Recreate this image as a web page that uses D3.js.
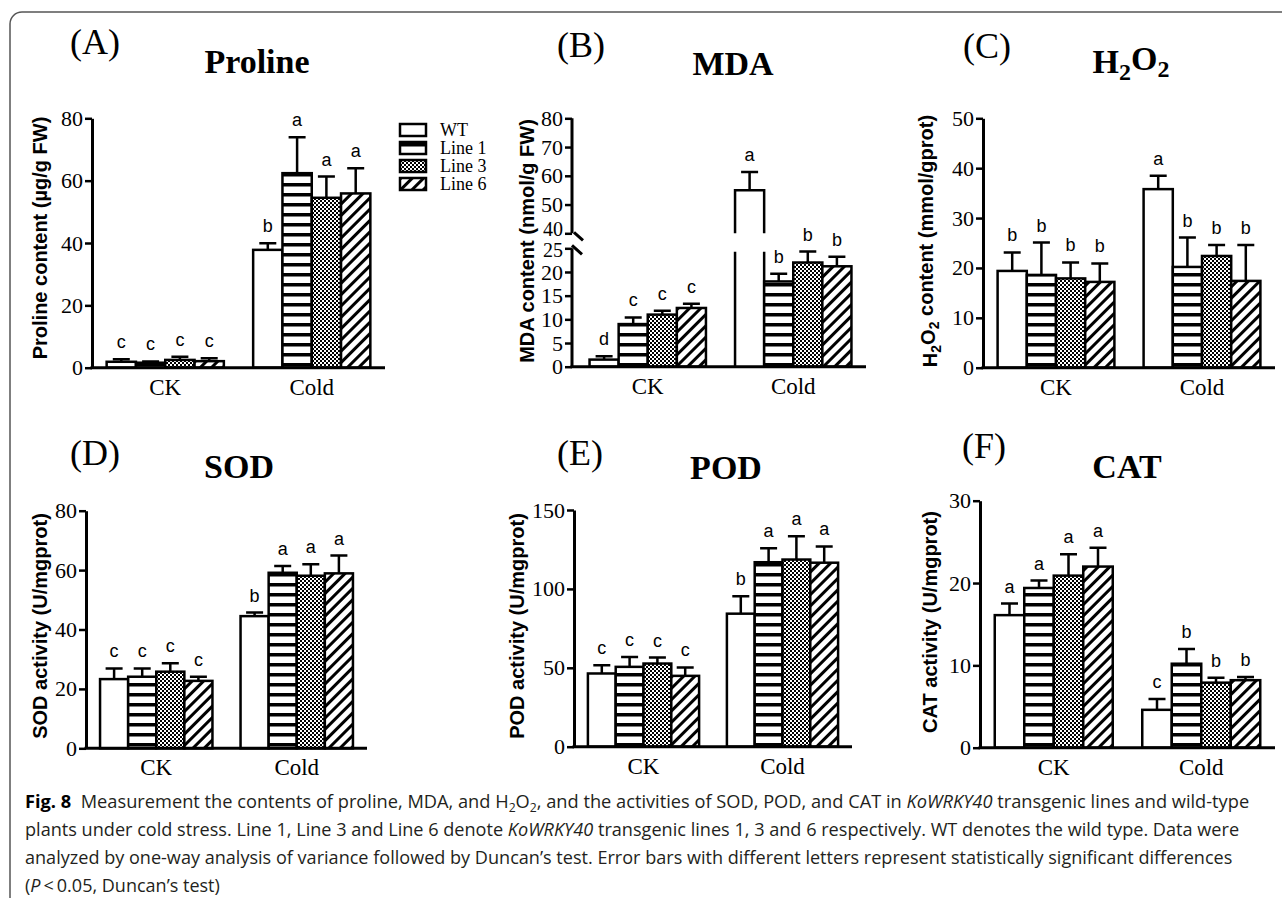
<!DOCTYPE html>
<html>
<head>
<meta charset="utf-8">
<script src="https://cdn.jsdelivr.net/npm/d3@7"></script>
<style>
  body { margin: 0; background: #fff; }
  svg { display: block; }
</style>
</head>
<body>
<svg id="fig" width="1282" height="898"></svg>
<script>
// groups and series shared by every panel
const groups = ["CK", "Cold"];
const series = ["WT", "Line 1", "Line 3", "Line 6"];

// values: [CK row, Cold row], one entry per series
const prolineMean = [[1.9, 1.6, 2.5, 2.1], [37.8, 62.4, 54.5, 55.9]];
const prolineErr = [[0.8, 0.4, 1.0, 0.9], [2.1, 11.5, 6.8, 8.1]];
const prolineLetters = [["c", "c", "c", "c"], ["b", "a", "a", "a"]];

const mdaMean = [[1.5, 9.0, 11.0, 12.4], [55.0, 18.0, 22.0, 21.2]];
const mdaErr = [[0.7, 1.4, 0.8, 0.9], [6.3, 1.6, 2.3, 2.0]];
const mdaLetters = [["d", "c", "c", "c"], ["a", "b", "b", "b"]];

const h2o2Mean = [[19.4, 18.6, 17.9, 17.2], [35.8, 20.2, 22.4, 17.4]];
const h2o2Err = [[3.7, 6.5, 3.2, 3.7], [2.7, 5.9, 2.2, 7.2]];
const h2o2Letters = [["b", "b", "b", "b"], ["a", "b", "b", "b"]];

const sodMean = [[23.3, 24.1, 25.8, 22.7], [44.5, 59.1, 58.1, 58.9]];
const sodErr = [[3.6, 2.8, 2.8, 1.4], [1.2, 2.3, 3.9, 6.0]];
const sodLetters = [["c", "c", "c", "c"], ["b", "a", "a", "a"]];

const podMean = [[46.4, 50.6, 52.7, 44.9], [84.3, 116.9, 118.6, 116.6]];
const podErr = [[5.2, 6.3, 3.8, 5.3], [11.0, 8.9, 14.8, 10.3]];
const podLetters = [["c", "c", "c", "c"], ["b", "a", "a", "a"]];

const catMean = [[16.1, 19.4, 20.9, 22.0], [4.6, 10.2, 7.9, 8.2]];
const catErr = [[1.4, 0.9, 2.6, 2.3], [1.3, 1.8, 0.6, 0.4]];
const catLetters = [["a", "a", "a", "a"], ["c", "b", "b", "b"]];

// tick labels
const prolineTicks = [0, 20, 40, 60, 80];
const mdaTicksLow = [0, 5, 10, 15, 20, 25];
const mdaTicksHigh = [40, 50, 60, 70, 80];
const h2o2Ticks = [0, 10, 20, 30, 40, 50];
const sodTicks = [0, 20, 40, 60, 80];
const podTicks = [0, 50, 100, 150];
const catTicks = [0, 10, 20, 30];

const SERIF = "'Liberation Serif','Times New Roman',serif";
const SANS = "'Liberation Sans',Arial,sans-serif";

// panel layout (positions in px)
const panels = [
  { tag: "(A)", tagX: 70, tagY: 54, title: [["Proline"]], titleX: 257, titleY: 73,
    ylab: [["Proline content (µg/g FW)"]], ylabX: 40, ylabY: 238,
    mean: prolineMean, err: prolineErr, letters: prolineLetters, ticks: prolineTicks,
    domain: [0, 80], ax: 92, x1: 385, bx0: 92, y0: 367.7, yTop: 118.3 },
  { tag: "(B)", tagX: 557, tagY: 57, title: [["MDA"]], titleX: 733, titleY: 75,
    ylab: [["MDA content (nmol/g FW)"]], ylabX: 527, ylabY: 241,
    mean: mdaMean, err: mdaErr, letters: mdaLetters,
    broken: true, ax: 572, x1: 866, bx0: 575, y0: 366.7,
    bDomain: [0, 25, 40, 80], bRange: [366.7, 248.3, 233.3, 118.3] },
  { tag: "(C)", tagX: 963, tagY: 58, title: [["H"], ["2", 1], ["O"], ["2", 1]], titleX: 1131, titleY: 73,
    ylab: [["H"], ["2", 1], ["O"], ["2", 1], [" content (mmol/gprot)"]], ylabX: 930, ylabY: 241,
    mean: h2o2Mean, err: h2o2Err, letters: h2o2Letters, ticks: h2o2Ticks,
    domain: [0, 50], ax: 983, x1: 1275, bx0: 983, y0: 367.7, yTop: 118.3 },
  { tag: "(D)", tagX: 70, tagY: 465, title: [["SOD"]], titleX: 239, titleY: 478,
    ylab: [["SOD activity (U/mgprot)"]], ylabX: 40, ylabY: 626,
    mean: sodMean, err: sodErr, letters: sodLetters, ticks: sodTicks,
    domain: [0, 80], ax: 86, x1: 367, bx0: 86, y0: 748.3, yTop: 510.7 },
  { tag: "(E)", tagX: 557, tagY: 465, title: [["POD"]], titleX: 726, titleY: 479,
    ylab: [["POD activity (U/mgprot)"]], ylabX: 517, ylabY: 626,
    mean: podMean, err: podErr, letters: podLetters, ticks: podTicks,
    domain: [0, 150], ax: 574, x1: 852, bx0: 574, y0: 746.7, yTop: 510 },
  { tag: "(F)", tagX: 962, tagY: 458, title: [["CAT"]], titleX: 1127, titleY: 478,
    ylab: [["CAT activity (U/mgprot)"]], ylabX: 930, ylabY: 622,
    mean: catMean, err: catErr, letters: catLetters, ticks: catTicks,
    domain: [0, 30], ax: 980, x1: 1275, bx0: 980, y0: 747.7, yTop: 500.7 }
];

const svg = d3.select("#fig");
const defs = svg.append("defs");

// hatch patterns
const pH = defs.append("pattern").attr("id", "pH").attr("patternUnits", "userSpaceOnUse")
  .attr("width", 10).attr("height", 10);
pH.append("rect").attr("width", 10).attr("height", 10).attr("fill", "#fff");
pH.append("rect").attr("y", 3).attr("width", 10).attr("height", 3.5).attr("fill", "#000");

const pC = defs.append("pattern").attr("id", "pC").attr("patternUnits", "userSpaceOnUse")
  .attr("width", 4).attr("height", 4);
pC.append("rect").attr("width", 4).attr("height", 4).attr("fill", "#fff");
pC.append("rect").attr("width", 2).attr("height", 2).attr("fill", "#000");
pC.append("rect").attr("x", 2).attr("y", 2).attr("width", 2).attr("height", 2).attr("fill", "#000");

const pD = defs.append("pattern").attr("id", "pD").attr("patternUnits", "userSpaceOnUse")
  .attr("width", 8).attr("height", 8).attr("patternTransform", "rotate(45)");
pD.append("rect").attr("width", 8).attr("height", 8).attr("fill", "#fff");
pD.append("rect").attr("width", 3).attr("height", 8).attr("fill", "#000");

const fills = { "WT": "#fff", "Line 1": "url(#pH)", "Line 3": "url(#pC)", "Line 6": "url(#pD)" };

// outer frame
svg.append("path")
  .attr("d", "M1290,12 H22 A12,12 0 0 0 10,24 V905")
  .attr("fill", "none").attr("stroke", "#555").attr("stroke-width", 1.5);

function richText(sel, parts, subSize) {
  parts.forEach(function(p) {
    const t = sel.append("tspan").text(p[0]);
    if (p[1]) {
      t.attr("font-size", subSize).attr("dy", "0.3em");
    } else if (sel.selectAll("tspan").size() > 1) {
      t.attr("dy", "-0.3em");
    }
  });
}

function drawPanel(p) {
  const g = svg.append("g");
  const x = d3.scaleBand().domain(groups).range([p.bx0, p.x1]).paddingInner(0.2).paddingOuter(0.1);
  const xs = d3.scaleBand().domain(series).range([0, x.bandwidth()]);
  const y = p.broken
    ? d3.scaleLinear().domain(p.bDomain).range(p.bRange)
    : d3.scaleLinear().domain(p.domain).range([p.y0, p.yTop]);

  // bars
  groups.forEach(function(grp, gi) {
    series.forEach(function(s, si) {
      const v = p.mean[gi][si], e = p.err[gi][si];
      const bx = x(grp) + xs(s), bw = xs.bandwidth(), cx = bx + bw / 2;
      if (p.broken && v > p.bDomain[1]) {
        g.append("rect").attr("x", bx).attr("y", y(v)).attr("width", bw)
          .attr("height", y(p.bDomain[2]) - y(v)).attr("fill", fills[s]).attr("stroke", "none");
        g.append("path")
          .attr("d", "M" + bx + "," + y(p.bDomain[2]) + "V" + y(v) + "H" + (bx + bw) + "V" + y(p.bDomain[2]))
          .attr("fill", "none").attr("stroke", "#000").attr("stroke-width", 2.5);
        const lowTop = y(p.bDomain[1]) + 3.4;
        g.append("path")
          .attr("d", "M" + bx + "," + y(0) + "V" + lowTop + "M" + (bx + bw) + "," + lowTop + "V" + y(0))
          .attr("fill", "none").attr("stroke", "#000").attr("stroke-width", 2.5);
      } else {
        g.append("rect").attr("x", bx).attr("y", y(v)).attr("width", bw)
          .attr("height", y(0) - y(v)).attr("fill", fills[s])
          .attr("stroke", "#000").attr("stroke-width", 2.5);
      }
      // error bar (upper only)
      g.append("path")
        .attr("d", "M" + cx + "," + y(v) + "V" + y(v + e) + "M" + (cx - 8.5) + "," + y(v + e) + "H" + (cx + 8.5))
        .attr("fill", "none").attr("stroke", "#000").attr("stroke-width", 2.5);
      g.append("text").attr("x", cx).attr("y", y(v + e) - 11)
        .attr("text-anchor", "middle").attr("font-family", SANS).attr("font-size", 18)
        .text(p.letters[gi][si]);
    });
  });

  // y axis
  if (p.broken) {
    [mdaTicksLow, mdaTicksHigh].forEach(function(tv, k) {
      const a = g.append("g").attr("transform", "translate(" + p.ax + ",0)")
        .call(d3.axisLeft(y).tickValues(tv).tickSize(7).tickPadding(2));
      a.select(".domain").remove();
      styleAxis(a);
      // the two labels at the break sit close together
      a.selectAll(".tick text").filter(function(d) { return d === 25 || d === 40; })
        .attr("font-size", 20).attr("dy", k === 0 ? "0.42em" : "0.1em");
    });
    g.append("path")
      .attr("d", "M" + p.ax + "," + y(0) + "V" + y(25) + "M" + p.ax + "," + y(40) + "V" + y(80))
      .attr("stroke", "#000").attr("stroke-width", 3).attr("fill", "none");
    g.append("path")
      .attr("d", "M" + (p.ax + 2) + "," + (y(40) - 1) + "L" + (p.ax + 11) + "," + (y(40) + 7) +
                 "M" + p.ax + "," + (y(25) - 3) + "L" + (p.ax + 10) + "," + (y(25) + 6))
      .attr("stroke", "#000").attr("stroke-width", 3).attr("fill", "none");
  } else {
    const a = g.append("g").attr("transform", "translate(" + p.ax + ",0)")
      .call(d3.axisLeft(y).tickValues(p.ticks).tickSize(7).tickPadding(2).tickSizeOuter(0));
    a.select(".domain").attr("stroke-width", 3);
    styleAxis(a);
  }

  // x axis
  const xa = g.append("g").attr("transform", "translate(0," + p.y0 + ")")
    .call(d3.axisBottom(x).tickSize(0).tickPadding(27));
  xa.select(".domain").remove();
  xa.selectAll("text").attr("font-family", SERIF).attr("font-size", 23).attr("fill", "#000").attr("dy", 0);
  g.append("line").attr("x1", p.ax - 1.5).attr("x2", p.x1).attr("y1", p.y0).attr("y2", p.y0)
    .attr("stroke", "#000").attr("stroke-width", 3);

  // panel tag and title
  g.append("text").attr("x", p.tagX).attr("y", p.tagY).attr("font-family", SERIF)
    .attr("font-size", 36).text(p.tag);
  const tt = g.append("text").attr("x", p.titleX).attr("y", p.titleY).attr("text-anchor", "middle")
    .attr("font-family", SERIF).attr("font-weight", "bold").attr("font-size", 34);
  richText(tt, p.title, 24);

  // y label
  const yl = g.append("text")
    .attr("transform", "translate(" + p.ylabX + "," + p.ylabY + ") rotate(-90)")
    .attr("text-anchor", "middle").attr("dy", "0.35em")
    .attr("font-family", SANS).attr("font-weight", "bold").attr("font-size", 20);
  richText(yl, p.ylab, 14);
}

function styleAxis(a) {
  a.selectAll(".tick line").attr("stroke", "#000").attr("stroke-width", 2.5);
  a.selectAll(".tick text").attr("font-family", SERIF).attr("font-size", 22).attr("fill", "#000");
}

panels.forEach(drawPanel);

// legend
const lg = svg.append("g");
series.forEach(function(s, i) {
  const cy = 130 + i * 18;
  lg.append("rect").attr("x", 400).attr("y", cy - 6).attr("width", 26).attr("height", 12)
    .attr("fill", fills[s]).attr("stroke", "#000").attr("stroke-width", 2.5);
  lg.append("text").attr("x", 440).attr("y", cy + 6).attr("font-family", SERIF)
    .attr("font-size", 18).text(s);
});

// caption
const capLines = [
  { y: 808, w: 1225, parts: [["Fig. 8", "b"], ["\u00a0\u00a0Measurement the contents of proline, MDA, and H"], ["2", "s"], ["O"], ["2", "s"],
    [", and the activities of SOD, POD, and CAT in "], ["KoWRKY40", "i"], [" transgenic lines and wild-type"]] },
  { y: 836, w: 1215, parts: [["plants under cold stress. Line 1, Line 3 and Line 6 denote "], ["KoWRKY40", "i"],
    [" transgenic lines 1, 3 and 6 respectively. WT denotes the wild type. Data were"]] },
  { y: 864, w: 1208, parts: [["analyzed by one-way analysis of variance followed by Duncan\u2019s test. Error bars with different letters represent statistically significant differences"]] },
  { y: 892, w: 195, parts: [["("], ["P", "i"], ["\u2009<\u20090.05, Duncan\u2019s test)"]] }
];
capLines.forEach(function(l) {
  const t = svg.append("text").attr("x", 0).attr("y", 0)
    .attr("font-family", "'Open Sans','Noto Sans',sans-serif").attr("font-size", 18).attr("fill", "#231f20");
  let shifted = false;
  l.parts.forEach(function(p) {
    const ts = t.append("tspan").text(p[0]);
    if (p[1] === "b") ts.attr("font-weight", "bold").attr("fill", "#000");
    if (p[1] === "i") ts.attr("font-style", "italic");
    if (p[1] === "s") { ts.attr("font-size", 12).attr("dy", 4); shifted = true; }
    else if (shifted) { ts.attr("dy", -4); shifted = false; }
  });
  const len = t.node().getComputedTextLength();
  t.attr("transform", "translate(25," + l.y + ") scale(" + (l.w / len) + ",1)");
});
</script>
</body>
</html>
